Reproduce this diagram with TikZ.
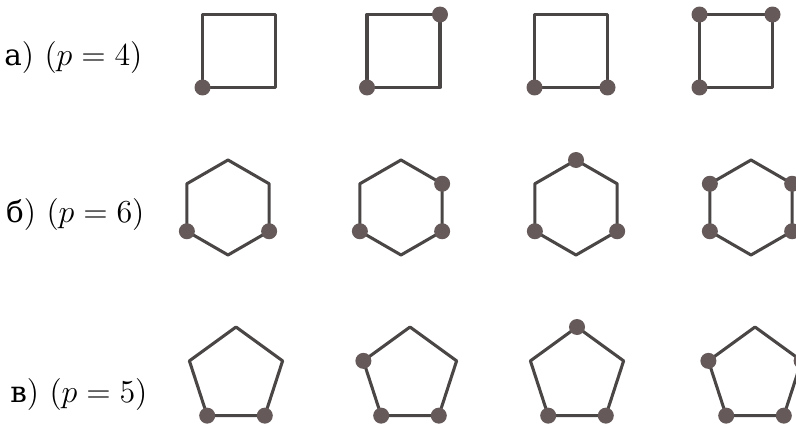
\documentclass[tikz,border=0pt]{standalone}
\usepackage{fontspec}
\usepackage{tikz}
\usetikzlibrary{calc}
\newfontfamily\cyrfont{DejaVu Serif}[Scale=0.92]
\definecolor{ecol}{HTML}{4A4646}
\definecolor{dcol}{HTML}{655959}

\begin{document}
\begin{tikzpicture}[x=0.375pt,y=0.375pt,
  edge/.style={draw=ecol,line width=1.15pt,line join=round},
  vtx/.style={circle,fill=dcol,inner sep=0pt,minimum size=6pt},
  lbl/.style={anchor=east,inner sep=0pt,font=\fontsize{12}{14}\selectfont}]
\useasboundingbox (0,0) rectangle (796,425);
% row labels
\node[lbl] (la) at (143,367.5) {{\cyrfont а}$)$ $(p=4)$};
\node[lbl] (lb) at (145,211)   {{\cyrfont б}$)$ $(p=6)$};
\node[lbl] (lc) at (148,31)    {{\cyrfont в}$)$ $(p=5)$};
% squares: 1 top-right, 2 top-left, 3 bottom-left, 4 bottom-right
\foreach \i/\cx/\marks in {1/239/{3},2/403.5/{3,1},3/571/{3,4},4/736/{2,1,3}}{
  \foreach \k in {1,...,4}
    \coordinate (s\i-\k) at ($(\cx,374)+({45+90*(\k-1)}:51.6)$);
  \draw[edge] (s\i-1) \foreach \k in {2,...,4}{ -- (s\i-\k)} -- cycle;
  \foreach \k in \marks
    \node[vtx] (ds\i-\k) at (s\i-\k) {};
}
% hexagons: 1 top, then counter-clockwise
\foreach \i/\cx/\marks in {1/228/{3,5},2/401/{3,6,5},3/576/{1,3,5},4/751/{2,3,6,5}}{
  \foreach \k in {1,...,6}
    \coordinate (h\i-\k) at ($(\cx,217.5)+({90+60*(\k-1)}:47.5)$);
  \draw[edge] (h\i-1) \foreach \k in {2,...,6}{ -- (h\i-\k)} -- cycle;
  \foreach \k in \marks
    \node[vtx] (dh\i-\k) at (h\i-\k) {};
}
% pentagons: 1 top, then counter-clockwise
\foreach \i/\cx/\marks in {1/236/{3,4},2/410/{2,3,4},3/577/{1,3,4},4/755/{2,5,3,4}}{
  \foreach \k in {1,...,5}
    \coordinate (p\i-\k) at ($(\cx,49)+({90+72*(\k-1)}:49)$);
  \draw[edge] (p\i-1) \foreach \k in {2,...,5}{ -- (p\i-\k)} -- cycle;
  \foreach \k in \marks
    \node[vtx] (dp\i-\k) at (p\i-\k) {};
}
\end{tikzpicture}
\end{document}
